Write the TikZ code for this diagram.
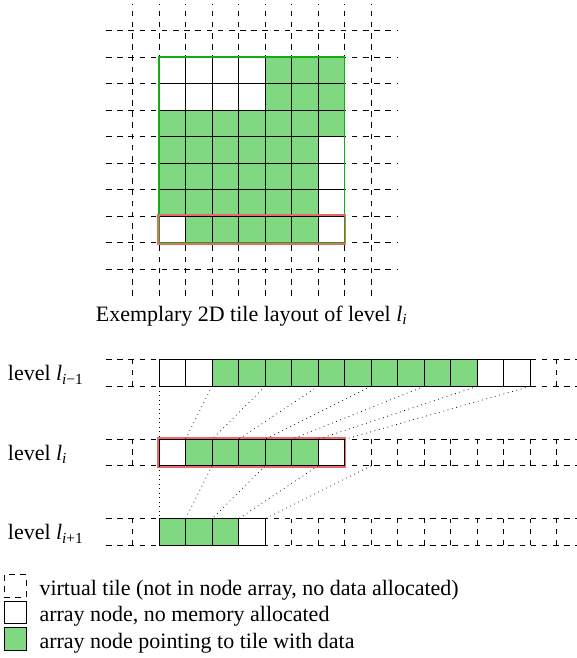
\documentclass[tikz,border=0pt]{standalone}
\usepackage{fontspec}
\setmainfont{Liberation Serif}
\usetikzlibrary{positioning}

\definecolor{tilegreen}{RGB}{128,216,128}
\definecolor{boxgreen}{RGB}{20,170,20}
\definecolor{boxred}{RGB}{235,105,105}
\newcommand{\lvl}[1]{\textit{l}\textsubscript{#1}}

\begin{document}
\begin{tikzpicture}[x=0.5cm, y=0.5cm, node distance=0.5cm, font=\fontsize{11.8}{14}\selectfont]

% Define tile styles
\tikzstyle{virtual} = [draw=black, dashed, thin]
\tikzstyle{tile0} = [rectangle, draw=black, fill=white, minimum size=0.5cm, inner sep=0pt, outer sep=0pt]
\tikzstyle{tile1} = [tile0, fill=tilegreen]
\tikzstyle{link} = [draw=black, dotted]
\tikzstyle{levelname} = [anchor=base west]
\tikzstyle{legendbox} = [rectangle, minimum size=0.42cm, inner sep=0pt]
\tikzstyle{legendtext} = [anchor=base west]

% Page size
\useasboundingbox (0,0) rectangle (21.77,24.83);
\clip (0,0) rectangle (21.77,24.83);

% Define the virtual grid of the 2D layout
\foreach \x in {5,...,14}
  \draw[virtual] (\x,13.67) -- (\x,24.67);
\foreach \y in {0,...,9}
  \draw[virtual] (4,14.67+\y) -- (15,14.67+\y);

% Define array nodes of the 2D layout
\foreach \r/\row in {0/{0,0,0,0,1,1,1}, 1/{0,0,0,0,1,1,1}, 2/{1,1,1,1,1,1,1},
                     3/{1,1,1,1,1,1,0}, 4/{1,1,1,1,1,1,0}, 5/{1,1,1,1,1,1,0},
                     6/{0,1,1,1,1,1,0}}
  \foreach \v [count=\c from 0] in \row
    \node[tile\v] (grid-\r-\c) at (6.5+\c,22.17-\r) {};

\draw[boxgreen, line width=0.9pt] (grid-0-0.north west) rectangle (grid-6-6.south east);
\draw[boxred, line width=0.9pt] ([shift={(-0.6pt,-0.6pt)}]grid-6-0.south west) rectangle ([shift={(0.6pt,0.6pt)}]grid-6-6.north east);

\node (caption) at (9.5,12.9) {Exemplary 2D tile layout of level \lvl{\textit{i}}};

% Define virtual tiles of the levels
\foreach \y in {10.25,11.25,7.25,8.25,4.25,5.25}
  \draw[virtual] (4,\y) -- (22,\y);
\foreach \x in {5,21}
  \draw[virtual] (\x,10.25) -- (\x,11.25);
\foreach \x in {5,14,15,...,21}
  \draw[virtual] (\x,7.25) -- (\x,8.25);
\foreach \x in {5,11,12,...,21}
  \draw[virtual] (\x,4.25) -- (\x,5.25);

% Define array nodes of the levels
\foreach \v [count=\c from 0] in {0,0,1,1,1,1,1,1,1,1,1,1,0,0}
  \node[tile\v] (prev-\c) at (6.5+\c,10.75) {};
\foreach \v [count=\c from 0] in {0,1,1,1,1,1,0}
  \node[tile\v] (cur-\c) at (6.5+\c,7.75) {};
\foreach \v [count=\c from 0] in {1,1,1,0}
  \node[tile\v] (next-\c) at (6.5+\c,4.75) {};
\coordinate (curEnd) at (14,7.25);

\draw[boxred, line width=0.9pt] ([shift={(-0.6pt,-0.6pt)}]cur-0.south west) rectangle ([shift={(0.6pt,0.6pt)}]cur-6.north east);

\node[levelname] (prevName) at (0.05,10.46) {level \lvl{\textit{i}−1}};
\node[levelname] (curName) at (0.05,7.46) {level \lvl{\textit{i}}};
\node[levelname] (nextName) at (0.05,4.46) {level \lvl{\textit{i}+1}};

% Relationships between levels (dotted)
\foreach \j in {0,...,6} {
  \pgfmathtruncatemacro{\k}{2*\j}
  \draw[link] (prev-\k.south west) -- (cur-\j.north west);
}
\draw[link] (prev-13.south east) -- (cur-6.north east);
\foreach \j in {0,...,3} {
  \pgfmathtruncatemacro{\k}{2*\j}
  \draw[link] (cur-\k.south west) -- (next-\j.north west);
}
\draw[link] (curEnd) -- (next-3.north east);

% Legend
\node[legendbox, virtual] (legendVirtual) at (0.57,2.72) {};
\node[legendbox, draw=black, fill=white] (legendEmpty) at (0.57,1.72) {};
\node[legendbox, draw=black, fill=tilegreen] (legendData) at (0.57,0.72) {};
\node[legendtext] (virtualText) at ([shift={(0.12cm,-0.18cm)}]legendVirtual.east) {virtual tile (not in node array, no data allocated)};
\node[legendtext] (emptyText) at ([shift={(0.12cm,-0.18cm)}]legendEmpty.east) {array node, no memory allocated};
\node[legendtext] (dataText) at ([shift={(0.12cm,-0.18cm)}]legendData.east) {array node pointing to tile with data};

\end{tikzpicture}
\end{document}
